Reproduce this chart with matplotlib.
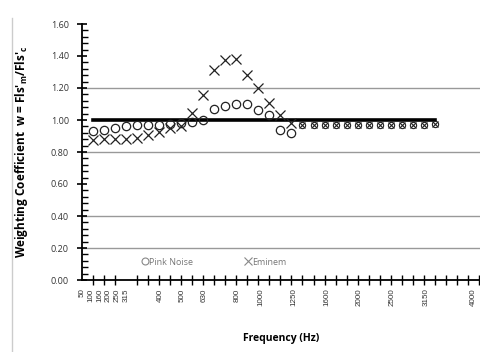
import numpy as np
import matplotlib
matplotlib.use('Agg')
import matplotlib.pyplot as plt
from matplotlib.ticker import MultipleLocator
from matplotlib.lines import Line2D

# data
idx = list(range(1, 33))
pink_noise = [0.93, 0.94, 0.95, 0.96, 0.97, 0.97, 0.97, 0.975, 0.98, 0.985,
              1.00, 1.07, 1.085, 1.10, 1.10, 1.06, 1.03, 0.94, 0.92,
              0.97, 0.97, 0.97, 0.97, 0.97, 0.97, 0.97, 0.97, 0.97, 0.97, 0.97, 0.97, 0.975]
eminem = [0.875, 0.88, 0.88, 0.88, 0.89, 0.905, 0.925, 0.95, 0.96, 1.045,
          1.155, 1.31, 1.375, 1.38, 1.28, 1.20, 1.105, 1.03, 0.98,
          0.97, 0.97, 0.97, 0.97, 0.97, 0.97, 0.97, 0.97, 0.97, 0.97, 0.97, 0.97, 0.975]
ref_line = [1.0] * 32
freq_labels = ['50', '100', '160', '200', '250', '315', '400', '500', '630', '800',
               '1000', '1250', '1600', '2000', '2500', '3150', '4000']
freq_pos = [0, 0.8, 1.6, 2.4, 3.2, 4.0, 7.1, 9.1, 11.1, 14.1,
            16.2, 19.2, 22.2, 25.1, 28.1, 31.2, 35.5]

fig = plt.figure(figsize=(4.8, 3.52), dpi=100)
plt.rcParams['font.family'] = ['Open Sans', 'DejaVu Sans']
ax = fig.add_axes([82/480, 1-280/352, 398/480, 256/352])

for g in [0.2, 0.4, 0.8, 1.2]:
    ax.axhline(g, color='#999999', lw=1.0, zorder=0)

ax.plot(idx, ref_line, color='black', lw=2.6, zorder=2)
# markers in the flat high-frequency part are drawn smaller in the original
n = 19
ax.plot(idx[:n], pink_noise[:n], ls='none', marker='o', ms=6, mfc='none', mec='#222222', mew=0.9, zorder=3)
ax.plot(idx[:n], eminem[:n], ls='none', marker='x', ms=6.5, mec='#222222', mew=0.9, zorder=3)
ax.plot(idx[n:], pink_noise[n:], ls='none', marker='o', ms=4.5, mfc='none', mec='#222222', mew=0.8, zorder=3)
ax.plot(idx[n:], eminem[n:], ls='none', marker='x', ms=4.5, mec='#222222', mew=0.8, zorder=3)

ax.set_xlim(0, 36.1)
ax.set_ylim(0, 1.6)
ax.yaxis.set_minor_locator(MultipleLocator(0.04))
ax.set_yticks(np.arange(0, 1.61, 0.2))
ax.set_yticklabels([f'{v:.2f}' for v in np.arange(0, 1.61, 0.2)], fontsize=6.5, color='#333333')
ax.tick_params(axis='y', which='major', direction='inout', length=7, width=1.2, pad=6)
ax.tick_params(axis='y', which='minor', direction='in', length=4, width=1.0)

ax.set_xticks(np.arange(0, 37, 1), minor=True)
ax.set_xticks(freq_pos)
ax.set_xticklabels(freq_labels, rotation=90, color='#333333',
                   fontsize=5.8, family=['Liberation Sans', 'DejaVu Sans'])
ax.tick_params(axis='x', which='minor', direction='inout', length=7, width=1.0)
ax.tick_params(axis='x', which='major', length=0, pad=6)

for s in ['top', 'right']:
    ax.spines[s].set_visible(False)
for s in ['left', 'bottom']:
    ax.spines[s].set_linewidth(1.3)

ax.set_ylabel("Weighting Coefficient  w = Fls'$_\\mathregular{m}$/Fls'$_\\mathregular{c}$",
              fontsize=8.5, fontweight='bold', labelpad=15)
ax.set_xlabel('Frequency (Hz)', fontsize=7.5, fontweight='bold', labelpad=19)

handles = [Line2D([], [], ls='none', marker='o', ms=5, mfc='none', mec='#888888', mew=0.8),
           Line2D([], [], ls='none', marker='x', ms=5.5, mec='#888888', mew=0.8)]
ax.legend(handles, ['Pink Noise', 'Eminem'], loc='center', bbox_to_anchor=(0.33, 0.07),
          ncol=2, frameon=False, fontsize=6.5, labelcolor='#777777',
          handletextpad=0.0, columnspacing=5.5, handlelength=1.0)

fig.add_artist(Line2D([12/480, 12/480], [0, 1-18/352], color='#cccccc', lw=1.0))

fig.savefig('out.png', dpi=100)
